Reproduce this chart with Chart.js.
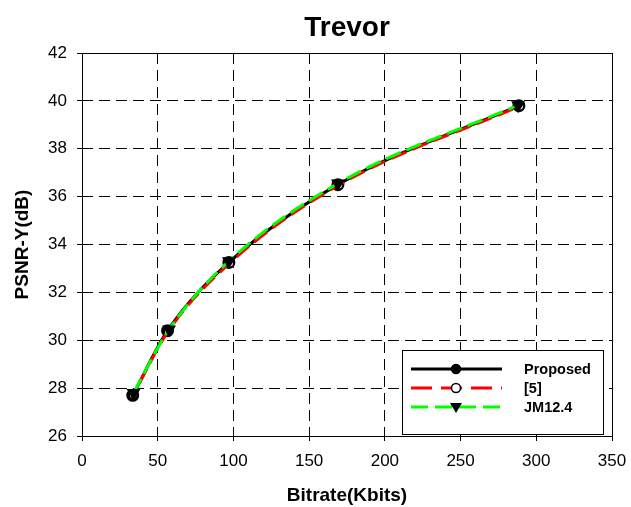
<!DOCTYPE html>
<html lang="en">
<head>
    <meta charset="UTF-8">
    <title>Trevor</title>
    <script src="https://cdn.jsdelivr.net/npm/chart.js@4.4.0/dist/chart.umd.min.js"></script>
    <style>
        html, body { margin: 0; padding: 0; background: #fff; }
        #wrap { width: 631px; height: 507px; }
    </style>
</head>
<body>
<div id="wrap"><canvas id="chart"></canvas></div>
<script>
    const FONT = "'Liberation Sans', Arial, sans-serif"

    const chartTitle = 'Trevor'
    const xTicks = [0, 50, 100, 150, 200, 250, 300, 350]
    const yTicks = [26, 28, 30, 32, 34, 36, 38, 40, 42]

    const proposedRate = [33.5, 56.5, 97, 169, 288.5]
    const proposedPsnr = [27.7, 30.4, 33.25, 36.5, 39.8]
    const ref5Rate = [33.8, 57, 97.5, 169.5, 289]
    const ref5Psnr = [27.72, 30.38, 33.22, 36.48, 39.78]
    const jmRate = [34, 57.5, 97, 169, 288]
    const jmPsnr = [27.8, 30.45, 33.3, 36.55, 39.82]

    function pts(xs, ys) {
        return xs.map((x, i) => ({x: x, y: ys[i]}))
    }

    // title centred on the plot, frame around plot, legend box inside the plot
    const framePlugin = {
        id: 'frame',
        afterDraw(chart) {
            const ctx = chart.ctx
            const a = chart.chartArea
            ctx.save()
            ctx.fillStyle = '#000'
            ctx.font = 'bold 28px ' + FONT
            ctx.textAlign = 'center'
            ctx.textBaseline = 'middle'
            ctx.fillText(chartTitle, (a.left + a.right) / 2, 28)

            ctx.strokeStyle = '#000'
            ctx.lineWidth = 1
            ctx.setLineDash([])
            ctx.strokeRect(Math.round(a.left) + 0.5, Math.round(a.top) + 0.5,
                Math.round(a.right - a.left), Math.round(a.bottom - a.top))

            // legend
            const bx = 402, by = 350, bw = 201, bh = 84
            ctx.fillStyle = '#fff'
            ctx.fillRect(bx, by, bw, bh)
            ctx.strokeRect(bx + 0.5, by + 0.5, bw, bh)
            const rows = [369, 388, 407]
            const dashes = [[], [21, 9], [17, 7]]
            chart.data.datasets.forEach((ds, i) => {
                const y = rows[i]
                ctx.beginPath()
                ctx.lineWidth = 3
                ctx.strokeStyle = ds.borderColor
                ctx.setLineDash(dashes[i])
                ctx.moveTo(411, y)
                ctx.lineTo(502, y)
                ctx.stroke()
                ctx.setLineDash([])
                ctx.lineWidth = 1.5
                ctx.strokeStyle = '#000'
                ctx.fillStyle = ds.pointBackgroundColor
                if (ds.pointStyle === 'triangle') {
                    ctx.beginPath()
                    ctx.moveTo(450, y - 4)
                    ctx.lineTo(462, y - 4)
                    ctx.lineTo(456, y + 6)
                    ctx.closePath()
                    ctx.fillStyle = '#000'
                    ctx.fill()
                } else {
                    ctx.beginPath()
                    ctx.arc(456, y, 4.5, 0, Math.PI * 2)
                    ctx.fill()
                    ctx.stroke()
                }
                ctx.fillStyle = '#000'
                ctx.font = 'bold 14.5px ' + FONT
                ctx.textAlign = 'left'
                ctx.textBaseline = 'middle'
                ctx.fillText(ds.label, 524, y + 1)
            })
            ctx.restore()
        }
    }

    new Chart(document.getElementById('chart'), {
        type: 'line',
        data: {
            datasets: [
                {
                    label: 'Proposed',
                    data: pts(proposedRate, proposedPsnr),
                    borderColor: '#000',
                    borderWidth: 3,
                    pointStyle: 'circle',
                    pointRadius: 5,
                    pointBackgroundColor: '#000',
                    pointBorderColor: '#000',
                    order: 3
                },
                {
                    label: '[5]',
                    data: pts(ref5Rate, ref5Psnr),
                    borderColor: '#ff0000',
                    borderWidth: 3,
                    borderDash: [16, 7],
                    borderDashOffset: 10,
                    pointStyle: 'circle',
                    pointRadius: 4,
                    pointBackgroundColor: '#fff',
                    pointBorderColor: '#000',
                    pointBorderWidth: 1.5,
                    order: 2
                },
                {
                    label: 'JM12.4',
                    data: pts(jmRate, jmPsnr),
                    borderColor: '#00ff00',
                    borderWidth: 3,
                    borderDash: [16, 6],
                    pointStyle: 'triangle',
                    pointRotation: 180,
                    pointRadius: 5,
                    pointBackgroundColor: '#000',
                    pointBorderColor: '#000',
                    order: 1
                }
            ]
        },
        options: {
            responsive: true,
            maintainAspectRatio: false,
            animation: false,
            cubicInterpolationMode: 'monotone',
            layout: {padding: {left: 0, right: 19, top: 53, bottom: 0}},
            plugins: {
                legend: {display: false},
                tooltip: {enabled: false},
                title: {display: false}
            },
            scales: {
                x: {
                    type: 'linear',
                    min: 0,
                    max: 350,
                    afterBuildTicks: s => { s.ticks = xTicks.map(v => ({value: v})) },
                    afterFit: s => { s.height = 71; s.paddingLeft = 0; s.paddingRight = 0 },
                    border: {display: false, dash: [11, 6]},
                    grid: {color: '#000', lineWidth: 1, drawTicks: true, tickLength: 5},
                    ticks: {color: '#000', font: {family: FONT, size: 17}, padding: 10, maxRotation: 0},
                    title: {
                        display: true,
                        text: 'Bitrate(Kbits)',
                        color: '#000',
                        font: {family: FONT, size: 19, weight: 'bold'},
                        padding: {top: 0, bottom: 0}
                    }
                },
                y: {
                    min: 26,
                    max: 42,
                    afterBuildTicks: s => { s.ticks = yTicks.map(v => ({value: v})) },
                    afterFit: s => { s.width = 82; s.paddingTop = 0; s.paddingBottom = 0 },
                    border: {display: false, dash: [11, 6]},
                    grid: {color: '#000', lineWidth: 1, drawTicks: true, tickLength: 5},
                    ticks: {color: '#000', font: {family: FONT, size: 17}, padding: 10},
                    title: {
                        display: true,
                        text: 'PSNR-Y(dB)',
                        color: '#000',
                        font: {family: FONT, size: 19, weight: 'bold'},
                        padding: {top: 11, bottom: 4}
                    }
                }
            }
        },
        plugins: [framePlugin]
    })
</script>
</body>
</html>
